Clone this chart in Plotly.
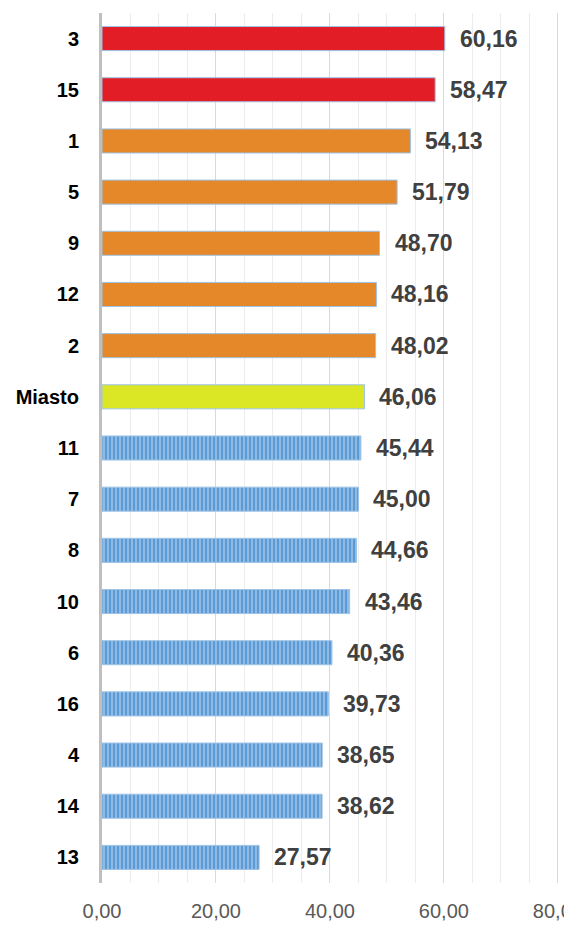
import plotly.graph_objects as go

categories = ["3", "15", "1", "5", "9", "12", "2", "Miasto", "11", "7", "8", "10", "6", "16", "4", "14", "13"]
values = [60.16, 58.47, 54.13, 51.79, 48.70, 48.16, 48.02, 46.06, 45.44, 45.00, 44.66, 43.46, 40.36, 39.73, 38.65, 38.62, 27.57]
groups = ["red", "red", "orange", "orange", "orange", "orange", "orange", "city",
          "blue", "blue", "blue", "blue", "blue", "blue", "blue", "blue", "blue"]
x_ticks = [0, 20, 40, 60, 80]

styles = {
    "red": dict(color="#e31d25", pattern=None),
    "orange": dict(color="#e5882a", pattern=None),
    "city": dict(color="#dbe624", pattern=None),
    "blue": dict(color="#5b9bd5", pattern=dict(shape="|", fgcolor="#cfe1f4", bgcolor="#5b9bd5", size=4, solidity=0.45)),
}

order = categories[::-1]  # bottom-to-top category order on the axis

fig = go.Figure()
for g in ["red", "orange", "city", "blue"]:
    ys = [c for c, gg in zip(categories, groups) if gg == g]
    xs = [v for v, gg in zip(values, groups) if gg == g]
    st = styles[g]
    marker = dict(color=st["color"], line=dict(color="#9dc3e6", width=1))
    if st["pattern"]:
        marker["pattern"] = st["pattern"]
    fig.add_trace(go.Bar(x=xs, y=ys, orientation="h", marker=marker, showlegend=False, hoverinfo="skip"))

for c, v in zip(categories, values):
    fig.add_annotation(x=v, y=order.index(c), text=f"{v:.2f}".replace(".", ","), showarrow=False,
                       xanchor="left", xshift=13,
                       font=dict(family="Liberation Sans", size=23, color="#404040", weight="bold"))

fig.update_layout(
    width=564, height=926,
    margin=dict(l=102, r=5, t=13, b=43, autoexpand=False),
    plot_bgcolor="white", paper_bgcolor="white",
    bargap=0.53, barmode="overlay",
    separators=", ",
    xaxis=dict(range=[0, 80.2], tickvals=x_ticks, tickformat=".2f", showgrid=True,
               gridcolor="#d9d9d9", gridwidth=1, zeroline=False, showline=False,
               minor=dict(dtick=5, showgrid=True, gridcolor="#ececec", gridwidth=1),
               tickfont=dict(family="Liberation Sans", size=20, color="#595959"),
               ticks="", ticklabelstandoff=14, ticklabeloverflow="allow", automargin=False),
    yaxis=dict(categoryorder="array", categoryarray=order, showgrid=False,
               showline=True, linecolor="#bfbfbf", linewidth=3, ticks="", ticklabelstandoff=16,
               tickfont=dict(family="Liberation Sans", size=20, color="#000000", weight="bold"),
               automargin=False),
    font=dict(family="Liberation Sans"),
)

fig.write_html("out.html", config={"displayModeBar": False},
               post_script="document.body.style.margin='0';document.body.style.overflow='hidden';")
